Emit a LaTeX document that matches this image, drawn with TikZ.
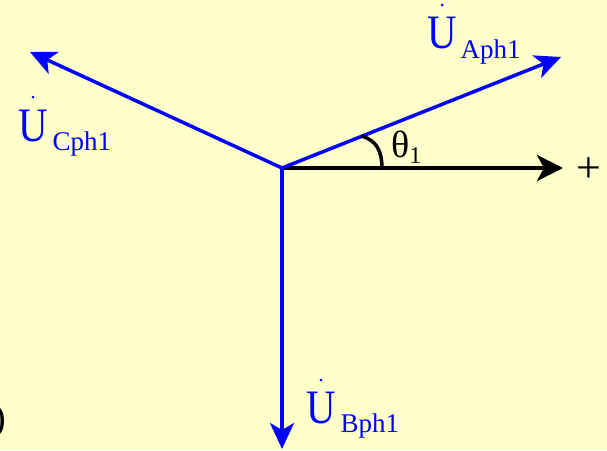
\documentclass[tikz,border=0pt]{standalone}
\usepackage{fontspec}
\setmainfont{Liberation Serif}
\usetikzlibrary{arrows.meta}
\definecolor{bgyellow}{HTML}{FFFFCC}
\begin{document}
\begin{tikzpicture}[x=1pt,y=-1pt,
  phasor/.style={draw=blue, line width=3.5pt, -{Stealth[length=26pt,width=24pt,inset=7pt]}},
  refaxis/.style={draw=black, line width=4pt, -{Stealth[length=26pt,width=26pt,inset=7pt]}},
  lbl/.style={inner sep=0pt, anchor=base west, text=blue},
  dotacc/.style={fill=blue, circle, inner sep=0pt, minimum size=3pt},
  blk/.style={inner sep=0pt, text=black},
]
\fill[bgyellow] (0,0) rectangle (607,450);
\useasboundingbox (0,0) rectangle (607,450);
\coordinate (O) at (282,168);
\coordinate (A) at (561,57);
\coordinate (C) at (30,52);
\coordinate (B) at (282,449);
\coordinate (P) at (563,168);
\draw[refaxis] (O) -- (P);
\draw[phasor] (O) -- (A);
\draw[phasor] (O) -- (C);
\draw[phasor] (O) -- (B);
\coordinate (th1) at (361,136);
\coordinate (th2) at (382,168);
\draw[black, line width=3.5pt] (th1) .. controls (377,140) and (382,152) .. (th2);
\node[lbl] (lA) at (427,48) {\scalebox{0.85}[1]{\fontsize{48}{48}\selectfont U}\hspace{4pt}\raisebox{-10pt}{\fontsize{27}{27}\selectfont Aph1}};
\node[dotacc] (dA) at (442,5) {};
\node[lbl] (lC) at (18,141) {\scalebox{0.85}[1]{\fontsize{48}{48}\selectfont U}\hspace{5pt}\raisebox{-9pt}{\fontsize{27}{27}\selectfont Cph1}};
\node[dotacc] (dC) at (33,97) {};
\node[lbl] (lB) at (306,423) {\scalebox{0.85}[1]{\fontsize{48}{48}\selectfont U}\hspace{5pt}\raisebox{-9pt}{\fontsize{27}{27}\selectfont Bph1}};
\node[dotacc] (dB) at (321,380) {};
\node[blk, anchor=base west] (theta) at (391,157) {{\fontsize{38}{38}\selectfont θ}\raisebox{-6pt}{\fontsize{24}{24}\selectfont 1}};
\node[blk, anchor=base] (plus) at (589,182) {\fontsize{44}{44}\selectfont +};
\node[blk, anchor=base east] (paren) at (6,430) {\fontsize{38}{38}\selectfont )};
\end{tikzpicture}
\end{document}
